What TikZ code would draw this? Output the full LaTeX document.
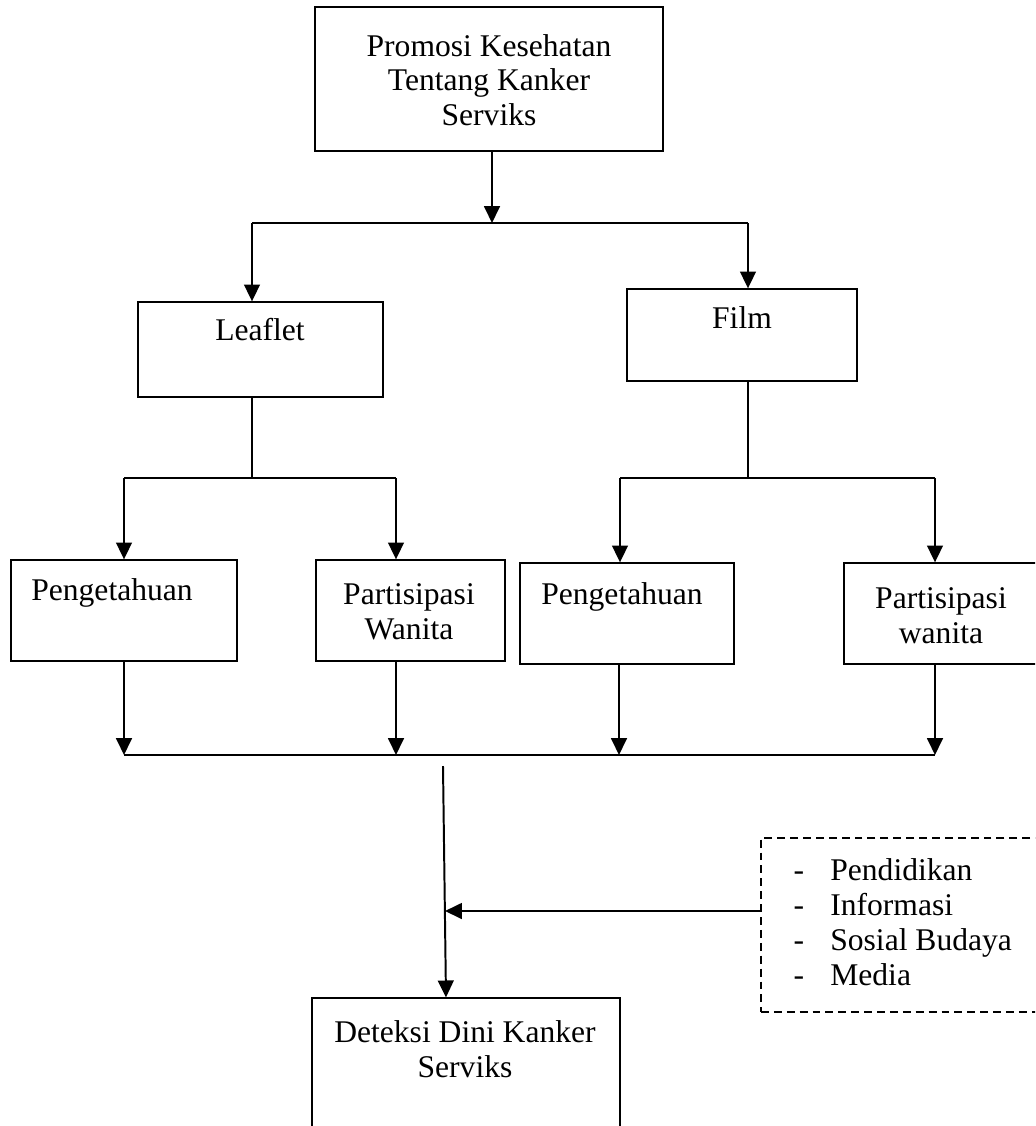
\documentclass[tikz,border=0pt]{standalone}
\usepackage{fontspec}
\setmainfont{Liberation Serif}
\usetikzlibrary{positioning,arrows.meta,fit}

\begin{document}
\begin{tikzpicture}[
  x=0.38pt,y=-0.38pt,
  >={Triangle[length=6.4pt,width=6pt]},
  box/.style={draw,line width=0.5pt,inner sep=0pt},
  dbox/.style={draw,line width=0.5pt,dash pattern=on 3pt off 1.9pt,inner sep=0pt},
  txt/.style={align=center,inner sep=0pt,font=\fontsize{12pt}{13.2pt}\selectfont},
  ln/.style={line width=0.75pt},
  ar/.style={->,line width=0.75pt}
]
\useasboundingbox (0,0) rectangle (1035,1126);
\clip (0,0) rectangle (1035,1126);

% TOP: promotion
\node[box,fit={(315,7) (663,151)}] (promosi) {};
\node[txt] (promosi-t) at (489,80) {Promosi Kesehatan\\Tentang Kanker\\Serviks};

% MEDIA: leaflet and film
\node[box,fit={(138,302) (383,397)}] (leaflet) {};
\node[txt] (leaflet-t) at (260,330) {Leaflet};
\node[box,fit={(627,289) (857,381)}] (film) {};
\node[txt] (film-t) at (742,318) {Film};

% OUTCOMES
\node[box,fit={(11,560) (237,661)}] (peng1) {};
\node[txt] (peng1-t) at (112,593) {Pengetahuan};
\node[box,fit={(316,560) (505,661)}] (part1) {};
\node[txt] (part1-t) at (409,612) {Partisipasi\\Wanita};
\node[box,fit={(520,563) (734,664)}] (peng2) {};
\node[txt] (peng2-t) at (622,597) {Pengetahuan};
\node[box,fit={(844,563) (1050,664)}] (part2) {};
\node[txt] (part2-t) at (941,616) {Partisipasi\\wanita};

% RESULT
\node[box,fit={(312,998) (620,1150)}] (deteksi) {};
\node[txt] (deteksi-t) at (465,1049) {Deteksi Dini Kanker\\Serviks};

% OTHER FACTORS
\node[dbox,fit={(761,838) (1060,1012)}] (faktor) {};
\node[txt,anchor=west] (faktor-t) at (793,926) {\begin{tabular}{@{}l@{\hspace{10pt}}l@{}}
-&Pendidikan\\
-&Informasi\\
-&Sosial Budaya\\
-&Media
\end{tabular}};

% promotion -> media
\coordinate (j0) at (492,223);
\coordinate (jl) at (252,223);
\coordinate (jr) at (748,223);
\draw[ar] (promosi.south -| j0) -- (j0);
\draw[ln] (jl) -- (jr);
\draw[ar] (jl) -- (jl |- leaflet.north);
\draw[ar] (jr) -- (jr |- film.north);

% leaflet -> outcomes
\coordinate (j1) at (252,478);
\coordinate (j1l) at (124,478);
\coordinate (j1r) at (396,478);
\draw[ln] (leaflet.south -| j1) -- (j1);
\draw[ln] (j1l) -- (j1r);
\draw[ar] (j1l) -- (j1l |- peng1.north);
\draw[ar] (j1r) -- (j1r |- part1.north);

% film -> outcomes
\coordinate (j2) at (748,478);
\coordinate (j2l) at (620,478);
\coordinate (j2r) at (935,478);
\draw[ln] (film.south -| j2) -- (j2);
\draw[ln] (j2l) -- (j2r);
\draw[ar] (j2l) -- (j2l |- peng2.north);
\draw[ar] (j2r) -- (j2r |- part2.north);

% outcomes -> bar
\coordinate (b1) at (124,755);
\coordinate (b2) at (396,755);
\coordinate (b3) at (619,755);
\coordinate (b4) at (935,755);
\draw[ar] (peng1.south -| b1) -- (b1);
\draw[ar] (part1.south -| b2) -- (b2);
\draw[ar] (peng2.south -| b3) -- (b3);
\draw[ar] (part2.south -| b4) -- (b4);
\draw[line width=1pt] (b1) -- (b4);

% bar -> result, factors
\coordinate (v0) at (443,766);
\draw[ar] (v0) -- (deteksi.north -| 446,0);
\draw[ar] (faktor.west |- 0,911) -- (445,911);
\end{tikzpicture}
\end{document}
